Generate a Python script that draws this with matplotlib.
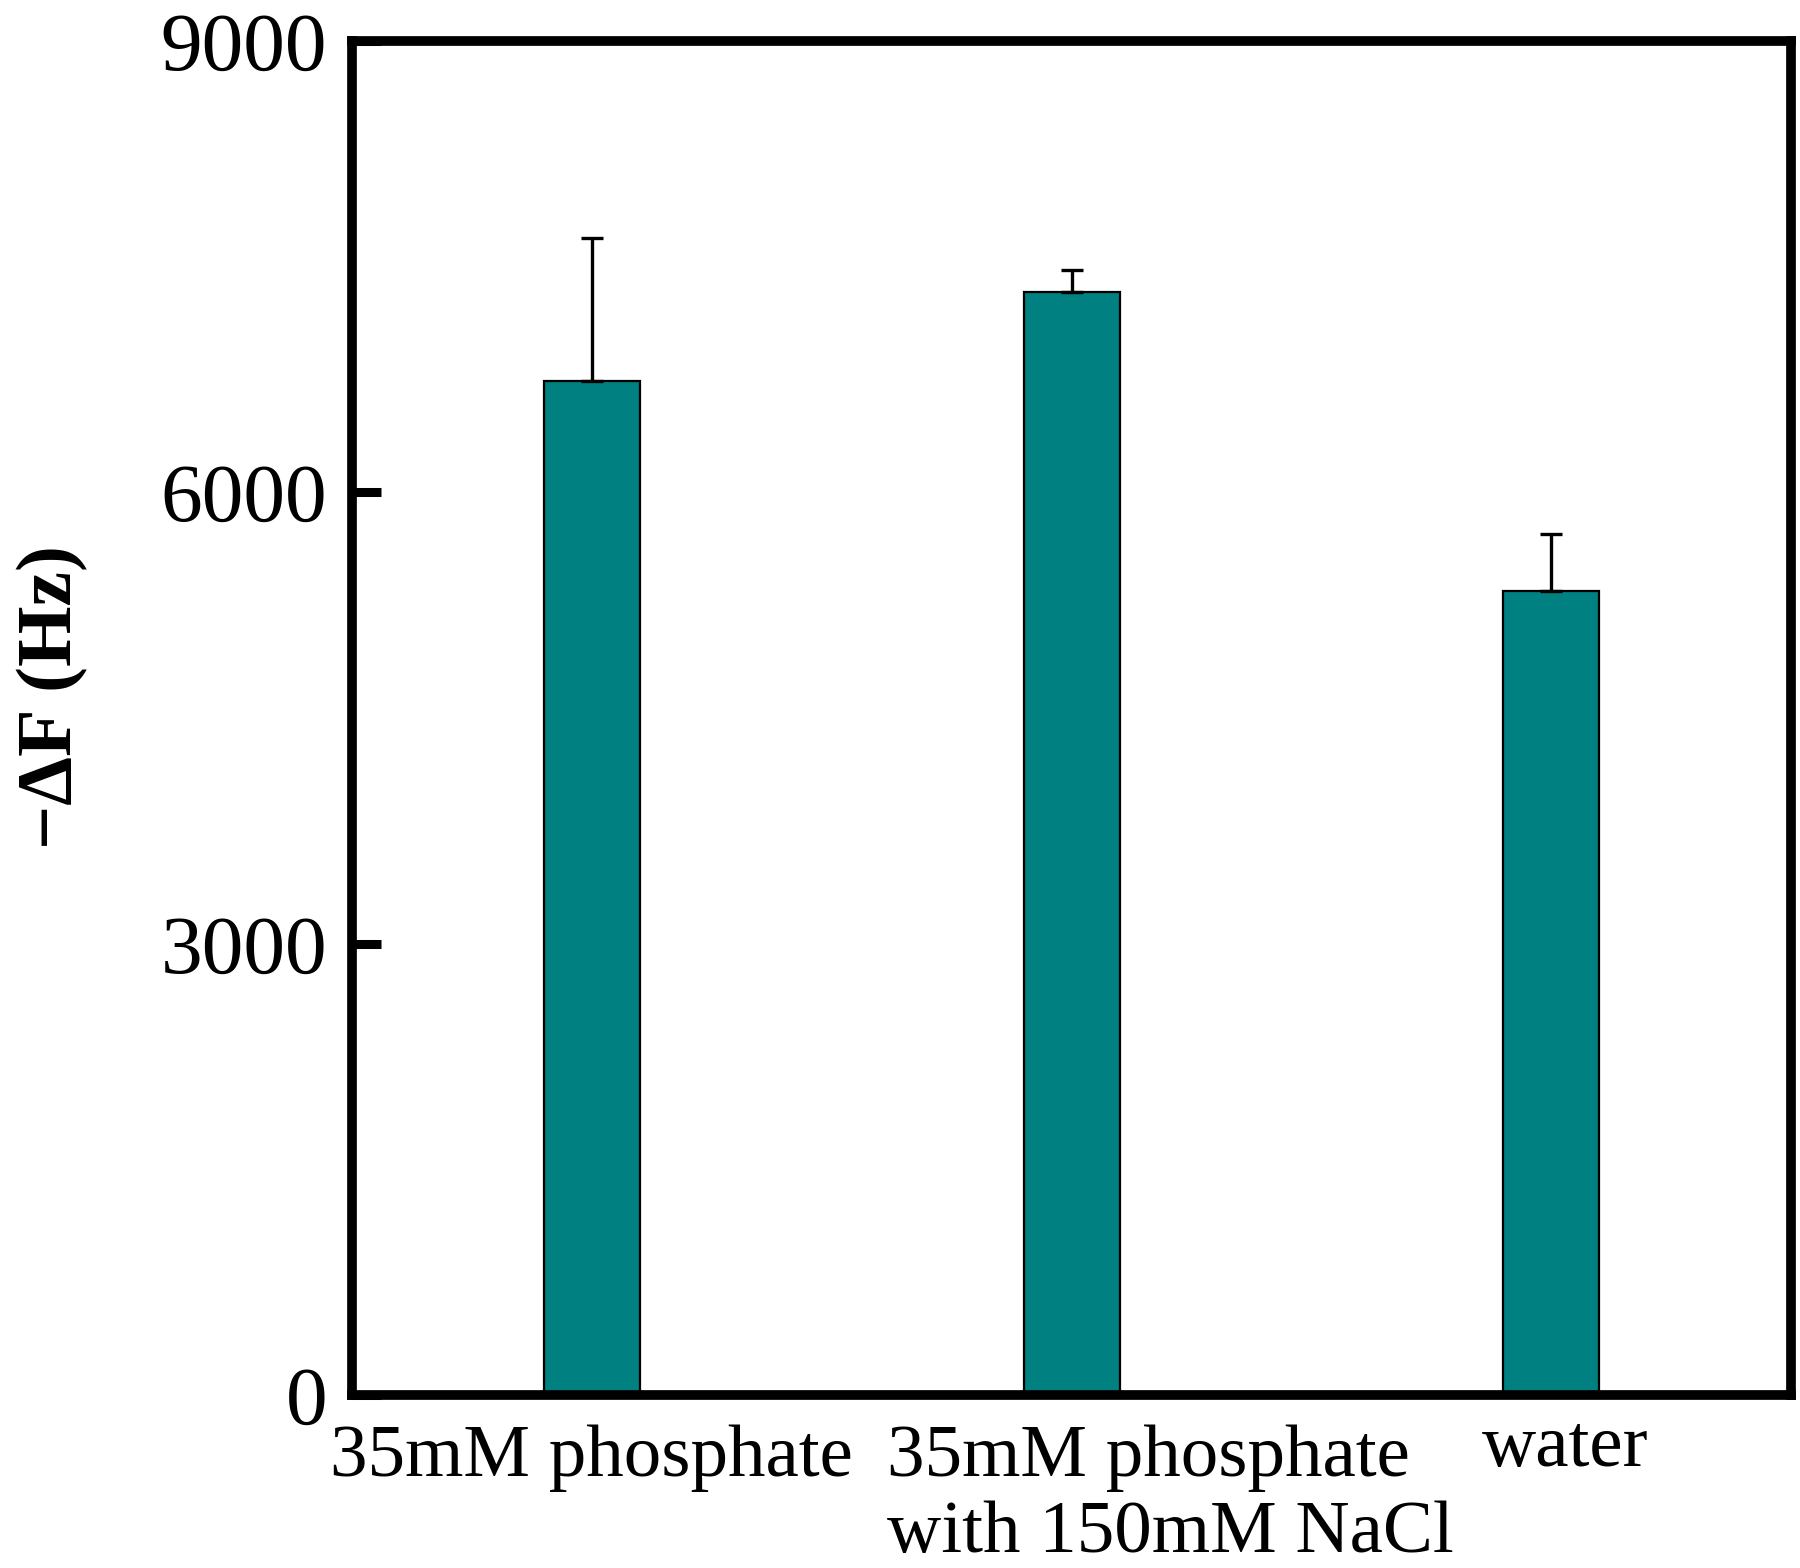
import matplotlib

matplotlib.use("Agg")
import matplotlib.pyplot as plt
import numpy as np

# values (Hz)
categories = ["35mM phosphate", "35mM phosphate\nwith 150mM NaCl", "water"]
delta_f = [6740, 7330, 5345]
delta_f_err = [950, 145, 380]
y_ticks = [0, 3000, 6000, 9000]

BAR_COLOR = "#008080"
plt.rcParams["font.family"] = ["Liberation Serif", "DejaVu Serif"]


def main():
    fig = plt.figure(figsize=(18, 15.68), dpi=100)
    ax = fig.add_axes([0.1956, 0.1103, 0.7994, 0.8636])

    x = np.arange(len(categories))
    ax.bar(x, delta_f, width=0.2, color=BAR_COLOR, edgecolor="black", linewidth=1.6,
           zorder=2)
    ax.errorbar(x, delta_f, yerr=[np.zeros(len(x)), delta_f_err], fmt="none",
                ecolor="black", elinewidth=2.4, capsize=8, capthick=2.4, zorder=3)

    ax.set_xlim(-0.5, 2.5)
    ax.set_ylim(0, 9000)
    ax.set_yticks(y_ticks)
    ax.set_yticklabels([str(t) for t in y_ticks], fontsize=60)
    ax.set_xticks([])
    ax.tick_params(axis="y", direction="in", length=21, width=6.5, pad=18)
    for spine in ax.spines.values():
        spine.set_linewidth(7)

    # category labels under the axis
    trans = ax.get_xaxis_transform()
    ax.text(x[0], -0.022, categories[0], transform=trans, ha="center", va="top",
            fontsize=54)
    ax.text(x[1] - 0.385, -0.022, categories[1], transform=trans, ha="left", va="top",
            fontsize=54, multialignment="left", linespacing=1.15)
    ax.text(x[2] + 0.03, -0.014, categories[2], transform=trans, ha="center", va="top",
            fontsize=54)

    fig.text(0.029, 0.5555, "\u2212\u0394F (Hz)", rotation=90, ha="center", va="center",
             fontsize=56, fontweight="bold")

    fig.savefig("out.png", dpi=100)
    plt.close(fig)


if __name__ == "__main__":
    main()
